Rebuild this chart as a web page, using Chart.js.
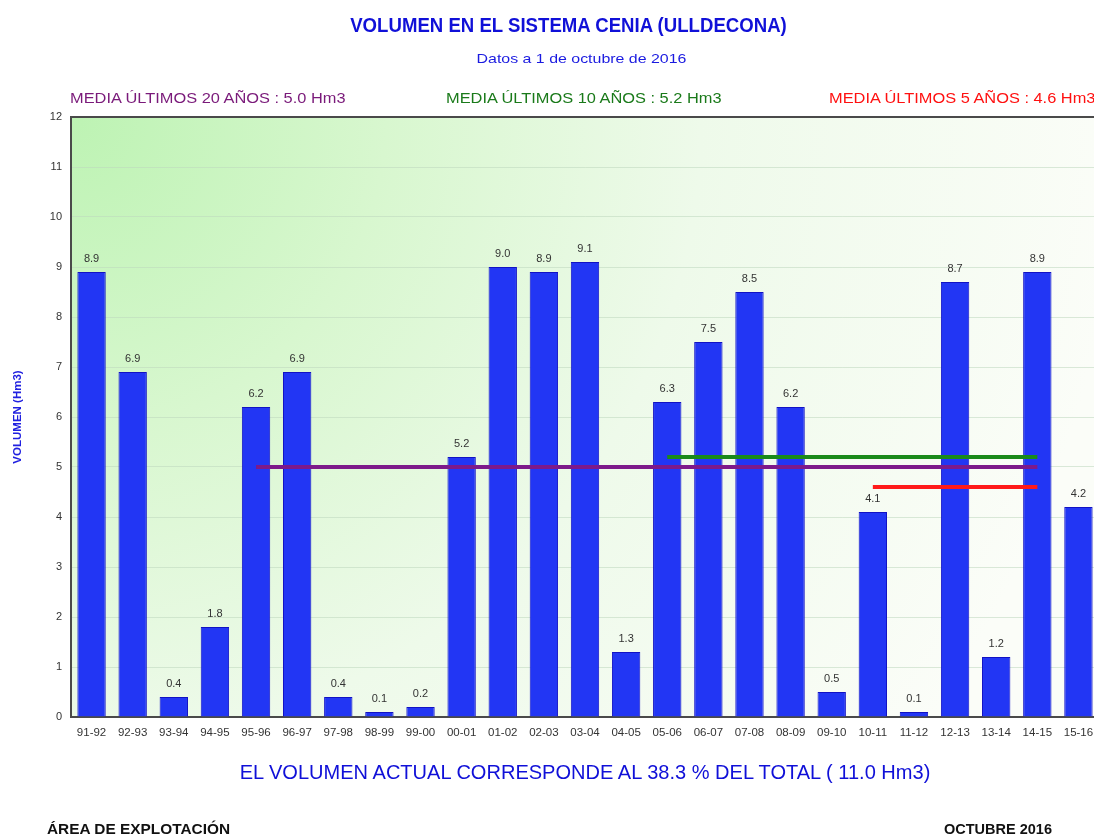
<!DOCTYPE html>
<html>
<head>
<meta charset="utf-8">
<script src="https://cdn.jsdelivr.net/npm/chart.js@4.4.1/dist/chart.umd.min.js"></script>
<style>
  html, body { margin:0; padding:0; background:#fff; width:1094px; height:837px; overflow:hidden; }
  #wrap { position:relative; width:1094px; height:837px; overflow:hidden; }
  #c { position:absolute; left:0; top:0; }
  .t { position:absolute; white-space:nowrap; font-family:"Liberation Sans",Arial,sans-serif; }
</style>
</head>
<body>
<div id="wrap">
  <canvas id="c" width="1110" height="837" style="width:1110px;height:837px"></canvas>
  <div class="t" style="left:0;width:1137px;text-align:center;top:13px;font-size:21px;font-weight:bold;color:#1010d8;transform:scaleX(0.886);transform-origin:568.5px 0;">VOLUMEN EN EL SISTEMA CENIA (ULLDECONA)</div>
  <div class="t" style="left:0;width:1163px;text-align:center;top:51px;font-size:13.5px;color:#1a1ae0;transform:scaleX(1.18);transform-origin:581.5px 0;">Datos a 1 de octubre de 2016</div>
  <div class="t" style="left:70px;top:90px;font-size:14px;color:#7a1a7a;transform:scaleX(1.17);transform-origin:0 0;">MEDIA ÚLTIMOS 20 AÑOS : 5.0 Hm3</div>
  <div class="t" style="left:446px;top:90px;font-size:14px;color:#1a7a1a;transform:scaleX(1.17);transform-origin:0 0;">MEDIA ÚLTIMOS 10 AÑOS : 5.2 Hm3</div>
  <div class="t" style="left:829px;top:90px;font-size:14px;color:#ff1010;transform:scaleX(1.17);transform-origin:0 0;">MEDIA ÚLTIMOS 5 AÑOS : 4.6 Hm3</div>
  <div class="t" style="left:0;width:1170px;text-align:center;top:760px;font-size:21px;color:#1010d8;transform:scaleX(0.954);transform-origin:585px 0;">EL VOLUMEN ACTUAL CORRESPONDE AL 38.3 % DEL TOTAL ( 11.0 Hm3)</div>
  <div class="t" style="left:47px;top:821px;font-size:14px;font-weight:bold;color:#111;transform:scaleX(1.1);transform-origin:0 0;">ÁREA DE EXPLOTACIÓN</div>
  <div class="t" style="right:42px;top:821px;font-size:14.5px;font-weight:bold;color:#111;">OCTUBRE 2016</div>
</div>
<script>
const categories = ["91-92","92-93","93-94","94-95","95-96","96-97","97-98","98-99","99-00","00-01","01-02","02-03","03-04","04-05","05-06","06-07","07-08","08-09","09-10","10-11","11-12","12-13","13-14","14-15","15-16"];
const volumes = [8.9, 6.9, 0.4, 1.8, 6.2, 6.9, 0.4, 0.1, 0.2, 5.2, 9.0, 8.9, 9.1, 1.3, 6.3, 7.5, 8.5, 6.2, 0.5, 4.1, 0.1, 8.7, 1.2, 8.9, 4.2];
const media20 = [null, null, null, null, 5.0, 5.0, 5.0, 5.0, 5.0, 5.0, 5.0, 5.0, 5.0, 5.0, 5.0, 5.0, 5.0, 5.0, 5.0, 5.0, 5.0, 5.0, 5.0, 5.0, null];
const media10 = [null, null, null, null, null, null, null, null, null, null, null, null, null, null, 5.2, 5.2, 5.2, 5.2, 5.2, 5.2, 5.2, 5.2, 5.2, 5.2, null];
const media5  = [null, null, null, null, null, null, null, null, null, null, null, null, null, null, null, null, null, null, null, 4.6, 4.6, 4.6, 4.6, 4.6, null];
const yTicks = [0,1,2,3,4,5,6,7,8,9,10,11,12];

const bgPlugin = {
  id: 'bg',
  beforeDraw(chart) {
    const {ctx, chartArea: a} = chart;
    const g = ctx.createRadialGradient(a.left, a.top, 0, a.left, a.top, 1050);
    g.addColorStop(0, '#bdf3b3');
    g.addColorStop(0.3, '#d8f7cf');
    g.addColorStop(0.6, '#eefaea');
    g.addColorStop(1, '#fbfdf8');
    ctx.save();
    ctx.fillStyle = g;
    ctx.fillRect(a.left, a.top, a.right - a.left, a.bottom - a.top);
    ctx.restore();
  }
};
const labelPlugin = {
  id: 'vals',
  afterDatasetsDraw(chart) {
    const ctx = chart.ctx;
    const meta = chart.getDatasetMeta(3);
    ctx.save();
    ctx.font = '11px "Liberation Sans", Arial, sans-serif';
    ctx.fillStyle = '#333';
    ctx.textAlign = 'center';
    ctx.textBaseline = 'bottom';
    meta.data.forEach((el, i) => {
      ctx.fillText(volumes[i].toFixed(1), el.x, el.y - 8);
    });
    ctx.restore();
  }
};

new Chart(document.getElementById('c'), {
  data: {
    labels: categories,
    datasets: [
      { type:'line', data: media10, borderColor:'#1a8a1a', borderWidth:4, pointRadius:0, fill:false, order:0 },
      { type:'line', data: media20, borderColor:'#7d1a8a', borderWidth:4, pointRadius:0, fill:false, order:1 },
      { type:'line', data: media5, borderColor:'#ff1a1a', borderWidth:4, pointRadius:0, fill:false, order:0 },
      { type:'bar', data: volumes, backgroundColor:'#2236f4', borderColor:'#1212c4', borderWidth:1, barPercentage:0.69, categoryPercentage:1, order:5 }
    ]
  },
  options: {
    responsive:false,
    animation:false,
    layout: { padding: { top:117, bottom:90, left:0, right:11 } },
    plugins: { legend:{display:false}, tooltip:{enabled:false}, title:{display:false} },
    scales: {
      x: {
        offset:true,
        grid:{ display:false, drawTicks:false },
        border:{ display:true, color:'#4a4a4a', width:2 },
        ticks:{ color:'#333', font:{ size:11.5, family:'"Liberation Sans", Arial, sans-serif' }, padding:9, maxRotation:0, autoSkip:false },
        afterFit(s){ s.height = 30; }
      },
      y: {
        min:0, max:12,
        afterBuildTicks(s){ s.ticks = yTicks.map(v => ({value:v})); },
        grid:{ drawTicks:false, color:(c) => c.tick && c.tick.value === 12 ? '#4a4a4a' : 'rgba(190,215,190,0.55)', lineWidth:(c) => c.tick && c.tick.value === 12 ? 2 : 1 },
        border:{ display:true, color:'#4a4a4a', width:2 },
        ticks:{ color:'#333', font:{ size:11, family:'"Liberation Sans", Arial, sans-serif' }, padding:9 },
        title:{ display:true, text:'VOLUMEN (Hm3)', color:'#2020e0', font:{ size:11.5, weight:'bold', family:'"Liberation Sans", Arial, sans-serif' }, padding:{top:11,bottom:0} },
        afterFit(s){ s.width = 71; }
      }
    }
  },
  plugins:[bgPlugin, labelPlugin]
});
</script>
</body>
</html>
